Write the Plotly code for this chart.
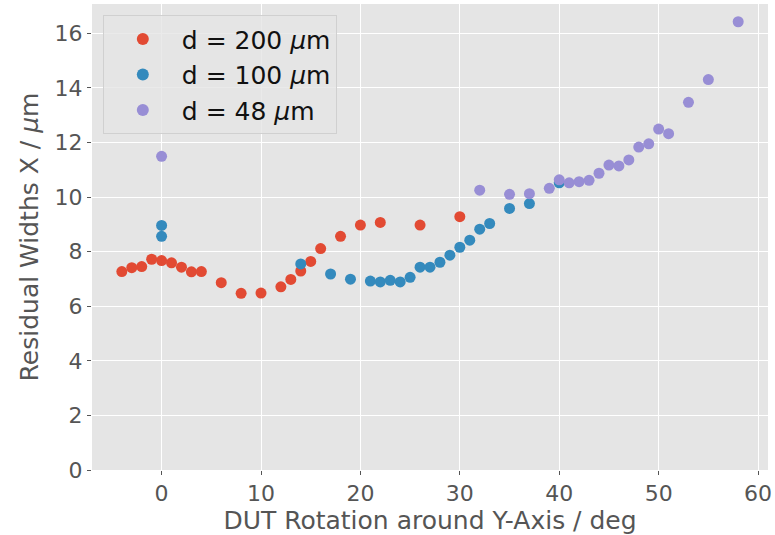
import plotly.graph_objects as go

# d = 200 um
x200 = [-4, -3, -2, -1, 0, 1, 2, 3, 4, 6, 8, 10, 12, 13, 14, 15, 16, 18, 20, 22, 26, 30]
y200 = [7.27, 7.41, 7.45, 7.72, 7.67, 7.59, 7.43, 7.26, 7.27, 6.86, 6.47, 6.48, 6.71, 6.98, 7.29, 7.64, 8.11, 8.56, 8.97, 9.07, 8.97, 9.28]

# d = 100 um
x100 = [0, 0, 14, 17, 19, 21, 22, 23, 24, 25, 26, 27, 28, 29, 30, 31, 32, 33, 35, 37, 40]
y100 = [8.96, 8.56, 7.55, 7.18, 6.99, 6.92, 6.89, 6.95, 6.89, 7.06, 7.43, 7.43, 7.61, 7.87, 8.16, 8.42, 8.82, 9.03, 9.58, 9.76, 10.52]

# d = 48 um
x48 = [0, 32, 35, 37, 39, 40, 41, 42, 43, 44, 45, 46, 47, 48, 49, 50, 51, 53, 55, 58]
y48 = [11.49, 10.25, 10.10, 10.12, 10.32, 10.63, 10.52, 10.56, 10.61, 10.87, 11.17, 11.14, 11.36, 11.83, 11.95, 12.49, 12.32, 13.47, 14.30, 16.42]

series = [
    ("d = 200 <i>μ</i>m", x200, y200, "#E24A33"),
    ("d = 100 <i>μ</i>m", x100, y100, "#348ABD"),
    ("d = 48 <i>μ</i>m", x48, y48, "#988ED5"),
]

FONT = "DejaVu Sans"
fig = go.Figure()
for name, xs, ys, c in series:
    fig.add_trace(go.Scatter(
        x=xs, y=ys, mode="markers", name=name,
        marker=dict(color=c, size=11, line=dict(width=0)),
    ))

fig.update_layout(
    width=775, height=535,
    margin=dict(l=92, r=7, t=4, b=65),
    paper_bgcolor="white",
    plot_bgcolor="#E5E5E5",
    font=dict(family=FONT, color="#555555", size=18),
    showlegend=True,
    legend=dict(
        x=0.016, y=0.976, xanchor="left", yanchor="top",
        bgcolor="rgba(229,229,229,0.8)", bordercolor="#D0D0D0", borderwidth=1,
        font=dict(family=FONT, size=25, color="#111111"),
        itemsizing="constant", itemwidth=68,
        tracegroupgap=0,
    ),
)
fig.update_xaxes(
    range=[-7.0, 61.0], tickvals=[0, 10, 20, 30, 40, 50, 60],
    showgrid=True, gridcolor="white", gridwidth=1.2, zeroline=False,
    ticks="outside", ticklen=4, tickcolor="#555555", tickwidth=1,
    tickfont=dict(size=22, color="#555555"),
    title=dict(text="DUT Rotation around Y-Axis / deg", font=dict(size=25, color="#555555"), standoff=4),
    showline=False,
)
fig.update_yaxes(
    range=[0, 17.07], tickvals=[0, 2, 4, 6, 8, 10, 12, 14, 16],
    showgrid=True, gridcolor="white", gridwidth=1.2, zeroline=False,
    ticks="outside", ticklen=4, tickcolor="#555555", tickwidth=1,
    tickfont=dict(size=22, color="#555555"),
    title=dict(text="Residual Widths X / <i>μ</i>m", font=dict(size=25, color="#555555"), standoff=8),
    showline=False,
)
fig.write_html("out.html")
